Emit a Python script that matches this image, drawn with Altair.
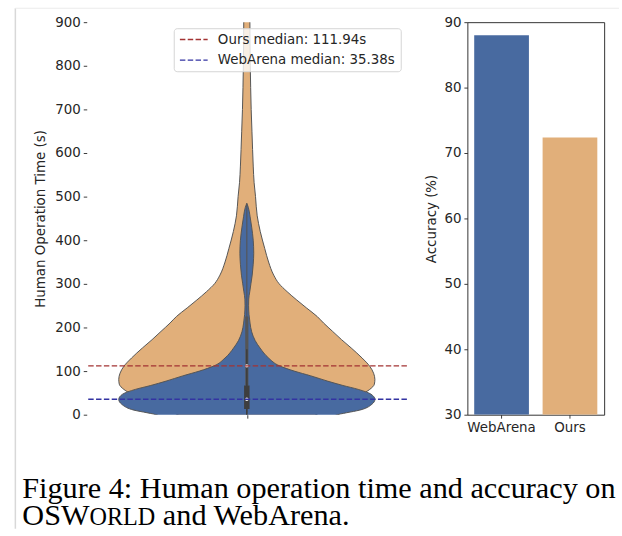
import altair as alt
import pandas as pd

# ---------------- data ----------------
# violin profiles: time (s) and density relative to each violin's maximum
ours_time = [-10, 0, 15, 30, 45, 58, 70, 81, 95, 111, 130, 153, 172, 191, 210, 225, 245, 263, 282, 301,
             320, 350, 381, 420, 456, 500, 532, 570, 608, 650, 700, 750, 800, 850, 900, 930]
ours_density = [0.48, 0.54, 0.65, 0.77, 0.885, 0.96, 0.996, 1.0, 0.99, 0.96, 0.90, 0.815, 0.74, 0.67, 0.60,
                0.55, 0.465, 0.39, 0.315, 0.25, 0.21, 0.17, 0.14, 0.105, 0.081, 0.068, 0.057, 0.05, 0.045,
                0.04, 0.034, 0.030, 0.027, 0.025, 0.024, 0.023]

web_time = [-10, 0, 12, 24, 35, 47, 58, 67, 77, 89, 100, 112, 130, 153, 170, 190, 210, 230, 250, 265,
            282, 300, 320, 345, 370, 400, 430, 455, 475, 485]
web_density = [0.62, 0.71, 0.90, 0.977, 1.0, 0.97, 0.87, 0.75, 0.63, 0.50, 0.37, 0.255, 0.17, 0.103, 0.065,
               0.038, 0.025, 0.017, 0.014, 0.015, 0.023, 0.032, 0.042, 0.05, 0.054, 0.05, 0.038, 0.025,
               0.012, 0.0]

# inner box statistics (seconds)
ours_box = [67, 225]
ours_whisker = [5, 482]
web_box = [13, 67]
web_whisker = [-12, 150]

medians_names = ["Ours", "WebArena"]
medians_values = [111.94, 35.38]

acc_labels = ["WebArena", "Ours"]
acc_values = [88.0, 72.36]

time_ticks = list(range(0, 901, 100))
acc_ticks = list(range(30, 91, 10))

caption_line1 = "Figure 4: Human operation time and accuracy on"
caption_os = "OSW"
caption_sc = "ORLD"
caption_rest = "and WebArena."

# ---------------- styling ----------------
ORANGE = "#E1AF7A"
BLUE = "#486AA0"
EDGE = "#555555"
RED_LINE = "#A33333"
BLUE_LINE = "#3333A2"
TXT = "#262626"
FONT = "DejaVu Sans"
FS = 13.5
HALF = 0.4  # max half width of a violin (seaborn width 0.8)

LW, LH = 323, 396   # left plot size
RW = 138            # right plot width

y_scale = alt.Scale(domain=[0, 900], nice=False)
x_scale = alt.Scale(domain=[-0.5, 0.5], nice=False)

yaxis = alt.Axis(values=time_ticks, title="Human Operation Time (s)", domain=False, grid=False,
                 tickSize=3.5, tickColor=TXT, tickWidth=0.9, labelFontSize=FS, labelColor=TXT,
                 labelFont=FONT, labelPadding=3, titleFont=FONT, titleFontSize=FS,
                 titleFontWeight="normal", titleColor=TXT, titlePadding=7)
xaxis = alt.Axis(values=[0], labels=False, domain=False, grid=False, tickSize=3.5, tickColor=TXT,
                 tickWidth=0.9, title=None)


def violin(times, dens, color):
    df = pd.DataFrame({"t": times, "d": dens})
    return alt.Chart(df).transform_calculate(
        lo=f"-datum.d*{HALF}", hi=f"datum.d*{HALF}"
    ).mark_area(orient="horizontal", interpolate="monotone", fill=color, stroke=EDGE,
                strokeWidth=1, clip=True).encode(
        y=alt.Y("t:Q", scale=y_scale, axis=yaxis),
        x=alt.X("lo:Q", scale=x_scale, axis=xaxis),
        x2="hi:Q",
    )


def inner(whisker, box, wlw, blw, color):
    df = pd.DataFrame({"a": [whisker[0], box[0]], "b": [whisker[1], box[1]], "w": [wlw, blw]})
    return alt.Chart(df).mark_rule(color=color, clip=True).encode(
        y=alt.Y("a:Q", scale=y_scale, axis=yaxis),
        y2="b:Q",
        x=alt.datum(0, scale=x_scale),
        strokeWidth=alt.StrokeWidth("w:Q", scale=None),
    )


med_df = pd.DataFrame({"name": medians_names, "m": medians_values,
                       "c": [RED_LINE, BLUE_LINE]})

dots = alt.Chart(med_df).mark_point(filled=True, color="white", opacity=1, size=12).encode(
    y=alt.Y("m:Q", scale=y_scale, axis=yaxis),
    x=alt.datum(0, scale=x_scale),
)

med_lines = alt.Chart(med_df).mark_rule(strokeDash=[5.5, 2.4], strokeWidth=1.5).encode(
    y=alt.Y("m:Q", scale=y_scale, axis=yaxis),
    color=alt.Color("c:N", scale=None),
)

one = pd.DataFrame({"k": [0]})

legend_box = alt.Chart(one).mark_rect(fill="white", fillOpacity=0.8, stroke="#d4d4d4",
                                      strokeWidth=1, cornerRadius=3).encode(
    x=alt.value(88.3), x2=alt.value(317.3), y=alt.value(6.6), y2=alt.value(50))

legend_layers = [legend_box]
for i, (nm, val, col) in enumerate(zip(medians_names, medians_values, [RED_LINE, BLUE_LINE])):
    yy = 17.6 + 20.7 * i
    legend_layers.append(
        alt.Chart(one).mark_rule(color=col, strokeDash=[5.5, 2.4], strokeWidth=1.5).encode(
            x=alt.value(94), x2=alt.value(122), y=alt.value(yy)))
    legend_layers.append(
        alt.Chart(one).mark_text(text=f"{nm} median: {val:.2f}s", align="left", baseline="middle",
                                 font=FONT, fontSize=FS, color=TXT).encode(
            x=alt.value(132.3), y=alt.value(yy)))

# caption (Times-like serif, small caps for "ORLD")
TIMES = {"O": 722, "S": 556, "W": 944, "R": 667, "L": 611, "D": 722, " ": 250}
CF = 30.5
SC = 0.8 * CF


def tw(s, size):
    return sum(TIMES[c] for c in s) / 1000.0 * size


cx0 = -65.0
cy1 = 480.3
cy2 = 506.8
x_sc = cx0 + tw(caption_os, CF)
x_rest = x_sc + tw(caption_sc, SC) + tw(" ", CF)

cap_style = dict(align="left", baseline="alphabetic", font="Liberation Serif", color="black")
caption = [
    alt.Chart(one).mark_text(text=caption_line1, fontSize=CF, **cap_style).encode(
        x=alt.value(cx0), y=alt.value(cy1)),
    alt.Chart(one).mark_text(text=caption_os, fontSize=CF, **cap_style).encode(
        x=alt.value(cx0), y=alt.value(cy2)),
    alt.Chart(one).mark_text(text=caption_sc, fontSize=SC, **cap_style).encode(
        x=alt.value(x_sc), y=alt.value(cy2)),
    alt.Chart(one).mark_text(text=caption_rest, fontSize=CF, **cap_style).encode(
        x=alt.value(x_rest), y=alt.value(cy2)),
]

# faint page border lines of the screenshot
borders = [
    alt.Chart(one).mark_rule(color="#d8d8d8", strokeWidth=1.5).encode(
        x=alt.value(-72), y=alt.value(-14), y2=alt.value(511)),
    alt.Chart(one).mark_rule(color="#ececec", strokeWidth=1).encode(
        x=alt.value(-72), x2=alt.value(537), y=alt.value(-14)),
]

left = alt.layer(
    violin(ours_time, ours_density, ORANGE),
    violin(web_time, web_density, BLUE),
    inner(ours_whisker, ours_box, 1.1, 3.2, EDGE),
    inner(web_whisker, web_box, 1.6, 5.5, "#3e3e3e"),
    dots,
    med_lines,
    *legend_layers,
    *caption,
    *borders,
).properties(width=LW, height=LH, view=alt.ViewBackground(stroke=None))

# ---------------- right panel ----------------
acc_df = pd.DataFrame({"name": acc_labels, "acc": acc_values})
right = alt.Chart(acc_df).mark_bar(clip=True).encode(
    x=alt.X("name:N", sort=acc_labels,
            scale=alt.Scale(paddingInner=0.2, paddingOuter=0.1),
            axis=alt.Axis(title=None, labelAngle=0, domain=False, grid=False, tickSize=3.5,
                          tickColor=TXT, tickWidth=0.9, labelFontSize=FS, labelFont=FONT,
                          labelColor=TXT, labelPadding=2)),
    y=alt.Y("acc:Q", scale=alt.Scale(domain=[30, 90], nice=False, zero=False),
            axis=alt.Axis(values=acc_ticks, title="Accuracy (%)", domain=False, grid=False,
                          tickSize=3.5, tickColor=TXT, tickWidth=0.9, labelFontSize=FS,
                          labelFont=FONT, labelColor=TXT, labelPadding=3, titleFont=FONT,
                          titleFontSize=FS, titleFontWeight="normal", titleColor=TXT,
                          titlePadding=5)),
    y2=alt.datum(30),
    color=alt.Color("name:N", scale=alt.Scale(domain=acc_labels, range=[BLUE, ORANGE]), legend=None),
).properties(width=RW, height=LH, view=alt.ViewBackground(stroke="#333333", strokeWidth=1))

chart = alt.hconcat(left, right, spacing=61, bounds="flush").properties(
    padding={"left": 14.5, "top": 5, "right": 2, "bottom": 0},
    background="white",
).configure_view(stroke=None)

chart.save("out.html", embed_options={"renderer": "svg", "actions": False})
